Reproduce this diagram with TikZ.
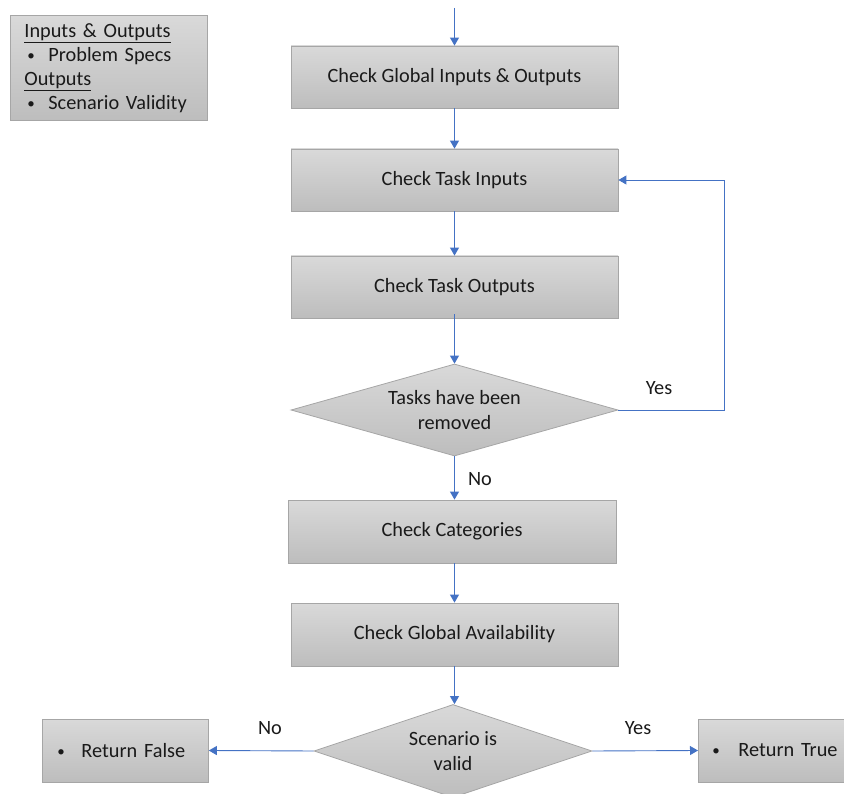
\documentclass[tikz,border=0pt]{standalone}
\usepackage{fontspec}
\setmainfont{Carlito}
\usetikzlibrary{shapes.geometric,arrows.meta}
\definecolor{arrowblue}{HTML}{4472C4}
\definecolor{boxtop}{HTML}{D9D9D9}
\definecolor{boxbot}{HTML}{BDBDBD}
\definecolor{boxline}{HTML}{A6A6A6}
\definecolor{txt}{HTML}{1A1A1A}
\newcommand{\smbul}{\raisebox{1pt}{\fontsize{15}{15}\selectfont\textbullet}}
\tikzset{
  procbox/.style={draw=boxline, line width=0.8pt, top color=boxtop, bottom color=boxbot,
    minimum width=327pt, minimum height=62pt, inner sep=0pt, text=txt,
    font=\fontsize{20.3}{25}\selectfont},
  decision/.style={diamond, draw=boxline, line width=0.8pt, top color=boxtop, bottom color=boxbot,
    inner sep=0pt},
  dtext/.style={text=txt, align=center, inner sep=0pt, font=\fontsize{20.3}{25}\selectfont},
  flow/.style={draw=arrowblue, line width=0.9pt, -{Triangle[width=9pt,length=8pt]}},
  lbl/.style={text=txt, font=\fontsize{20.3}{25}\selectfont, inner sep=0pt}
}
\begin{document}
\begin{tikzpicture}[x=1pt,y=-1pt]
\useasboundingbox (0,0) rectangle (844,794);
\clip (0,0) rectangle (844,794);
% legend
\node[draw=boxline, line width=0.8pt, top color=boxtop, bottom color=boxbot, anchor=north west,
  minimum width=197pt, minimum height=105pt, text width=169pt, inner xsep=14pt, inner ysep=0pt,
  align=left, text=txt, font=\fontsize{20.3}{24}\selectfont] (legend) at (10,15)
  {\underline{Inputs \& Outputs}\\
   \hspace*{3pt}\makebox[21pt][l]{\smbul}Problem Specs\\
   \underline{Outputs}\\
   \hspace*{3pt}\makebox[21pt][l]{\smbul}Scenario Validity};
% start
\coordinate (start) at (454.5,8);
\node[procbox] (b1) at (454.5,77) {\raisebox{-2pt}{Check Global Inputs \& Outputs}};
\node[procbox] (b2) at (454.5,180) {\raisebox{-2pt}{Check Task Inputs}};
\node[procbox] (b3) at (454.5,287) {\raisebox{-2pt}{Check Task Outputs}};
\node[decision, minimum width=327pt, minimum height=92pt] (d1) at (454.5,410) {};
\node[dtext] (d1t) at (d1.center) {Tasks have been\\removed};
\node[procbox, minimum width=328pt, minimum height=63pt] (b4) at (452,531.5) {\raisebox{-2pt}{Check Categories}};
\node[procbox, minimum height=63pt] (b5) at (454.5,634.5) {\raisebox{-2pt}{Check Global Availability}};
\node[decision, minimum width=278pt, minimum height=93pt] (d2) at (453,751) {};
\node[dtext] (d2t) at (d2.center) {Scenario is\\valid};
\node[procbox, minimum width=166pt, minimum height=63pt, anchor=west, text width=136pt,
  inner xsep=15pt, align=left] (rf) at (42,750.5)
  {\makebox[24pt][l]{\smbul}Return False};
\node[procbox, minimum width=166pt, minimum height=63pt, anchor=west, text width=138pt,
  inner xsep=14pt, align=left] (rt) at (698,750.5)
  {\makebox[26pt][l]{\smbul}Return True};
% connectors
\draw[flow] (start) -- (b1.north);
\draw[flow] (b1.south) -- (b2.north);
\draw[flow] (b2.south) -- (b3.north);
\draw[flow] ([yshift=4pt]b3.south) -- (d1.north);
\coordinate (loopR) at (724,410);
\draw[flow] (d1.east) -- (loopR) |- (b2.east);
\draw[flow] (d1.south) -- (d1.south |- b4.north);
\draw[flow] (b4.south -| b5.north) -- (b5.north);
\draw[flow] (b5.south) -- (b5.south |- d2.north);
\draw[flow] (d2.west) -- (rf.east);
\draw[flow] (d2.east) -- (rt.west);
% labels
\node[lbl] (yes1) at (659,388) {Yes};
\node[lbl] (no1) at (480,479) {No};
\node[lbl] (no2) at (270,728) {No};
\node[lbl] (yes2) at (638,728) {Yes};
\end{tikzpicture}
\end{document}
